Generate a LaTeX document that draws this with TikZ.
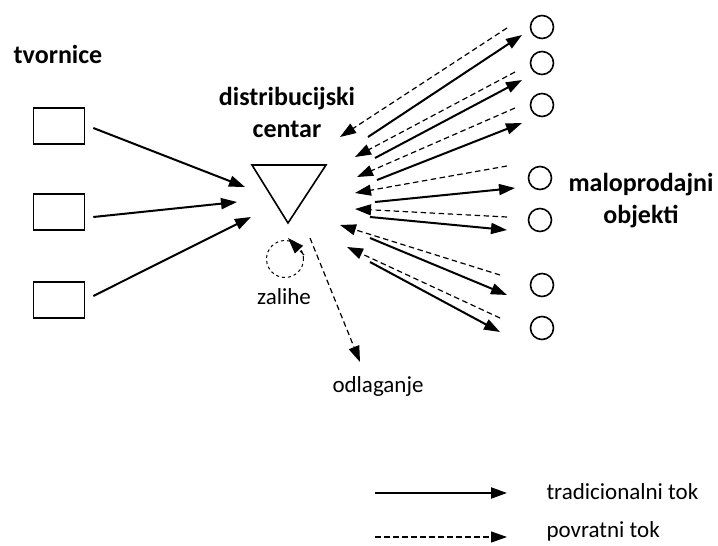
\documentclass[tikz,border=0pt]{standalone}
\usepackage{fontspec}
\setmainfont{Carlito}
\usetikzlibrary{arrows.meta}
\begin{document}
\begin{tikzpicture}[x=1pt,y=-1pt,
  trad/.style={line width=2pt,-{Triangle[length=16pt,width=11pt]}},
  povr/.style={line width=1.2pt,dash pattern=on 5.5pt off 3.5pt,-{Triangle[length=16pt,width=11pt]}},
  factory/.style={draw,line width=1.6pt,minimum width=51pt,minimum height=36pt,inner sep=0pt},
  shop/.style={draw,circle,line width=1.6pt,minimum size=23pt,inner sep=0pt},
  big/.style={font=\bfseries\fontsize{26}{32}\selectfont,align=center},
  small/.style={font=\fontsize{23}{28}\selectfont}]
\useasboundingbox (0,0) rectangle (718,546);
% labels
\node[big] (lt) at (58,54) {tvornice};
\node[big] (ldc) at (287,112) {distribucijski\\centar};
\node[big] (lmo) at (641,201) {maloprodajni\\objekti};
\node[small] (lz) at (284,297) {zalihe};
\node[small] (lo) at (378,386) {odlaganje};
% factories
\node[factory] (f1) at (59,126) {};
\node[factory] (f2) at (59,212) {};
\node[factory] (f3) at (59,300) {};
% distribution centre
\draw[line width=1.6pt,line join=miter] (252,165) -- (326,165) -- (288,223) -- cycle;
\node[draw,circle,dashed,line width=1pt,minimum size=37pt,inner sep=0pt] (zal) at (285,259) {};
% shops
\node[shop] (s1) at (542,27) {};
\node[shop] (s2) at (542,63) {};
\node[shop] (s3) at (542,105) {};
\node[shop] (s4) at (540,178) {};
\node[shop] (s5) at (540,220) {};
\node[shop] (s6) at (542,285) {};
\node[shop] (s7) at (542,328) {};
% factory arrows
\coordinate (d1) at (245,187);
\coordinate (d2) at (237,202);
\coordinate (d3) at (251,217);
\draw[trad] (f1.east)++(8,2) -- (d1);
\draw[trad] (f2.east)++(8,5) -- (d2);
\draw[trad] (f3.east)++(8,-4) -- (d3);
% inventory / disposal
\coordinate (za) at (304,255);
\coordinate (zb) at (288,238);
\draw[povr] (za) -- (zb);
\coordinate (oa) at (310,238);
\coordinate (ob) at (360,362);
\draw[povr] (oa) -- (ob);
% shop flows
\coordinate (r1a) at (507,28);  \coordinate (r1b) at (340,137);
\coordinate (t1a) at (368,137); \coordinate (t1b) at (522,35);
\coordinate (r2a) at (515,72);  \coordinate (r2b) at (355,157);
\coordinate (t2a) at (375,158); \coordinate (t2b) at (522,80);
\coordinate (r3a) at (515,108); \coordinate (r3b) at (357,177);
\coordinate (t3a) at (377,180); \coordinate (t3b) at (522,123);
\coordinate (r4a) at (507,166); \coordinate (r4b) at (355,193);
\coordinate (t4a) at (375,202); \coordinate (t4b) at (515,188);
\coordinate (r5a) at (507,217); \coordinate (r5b) at (355,209);
\coordinate (t5a) at (370,217); \coordinate (t5b) at (507,230);
\coordinate (r6a) at (500,275); \coordinate (r6b) at (340,225);
\coordinate (t6a) at (370,238); \coordinate (t6b) at (507,295);
\coordinate (r7a) at (500,318); \coordinate (r7b) at (347,247);
\coordinate (t7a) at (370,262); \coordinate (t7b) at (500,332);
\foreach \i in {1,...,7}{
  \draw[povr] (r\i a) -- (r\i b);
  \draw[trad] (t\i a) -- (t\i b);
}
% legend
\coordinate (la1) at (375,493); \coordinate (lb1) at (507,493);
\coordinate (la2) at (375,537); \coordinate (lb2) at (507,537);
\draw[trad] (la1) -- (lb1);
\draw[povr] (la2) -- (lb2);
\node[small,anchor=west] (lt1) at (543,492) {tradicionalni tok};
\node[small,anchor=west] (lt2) at (543,531) {povratni tok};
\end{tikzpicture}
\end{document}
